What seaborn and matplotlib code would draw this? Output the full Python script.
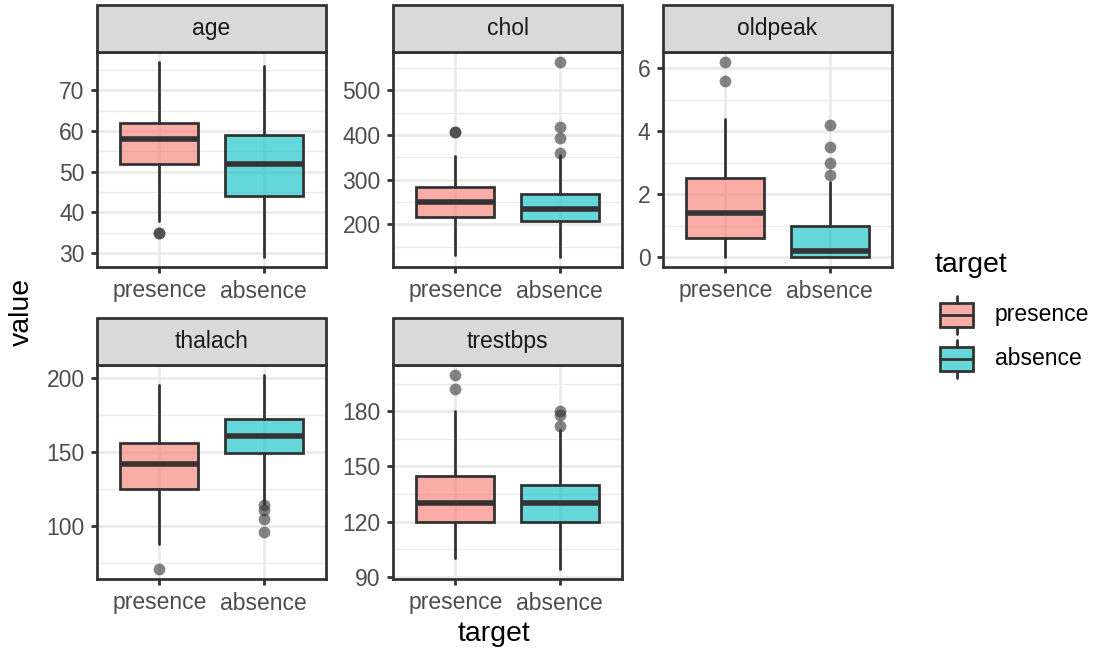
import numpy as np
import pandas as pd
import matplotlib
matplotlib.use("Agg")
import matplotlib.pyplot as plt
import seaborn as sns
from matplotlib.colors import to_rgba
from matplotlib.patches import Rectangle

# ---- data -------------------------------------------------------------
variables = ["age", "chol", "oldpeak", "thalach", "trestbps"]
groups = ["presence", "absence"]

# one entry per (variable, group), in variable order then group order
stat_variable = ["age", "age", "chol", "chol", "oldpeak", "oldpeak",
                 "thalach", "thalach", "trestbps", "trestbps"]
stat_group = groups * 5
whisker_low = [38, 29, 131, 126, 0.0, 0.0, 88, 115, 100, 94]
quartile_1 = [52, 44, 216, 208, 0.6, 0.0, 125, 149, 120, 120]
median_val = [58, 52, 249, 234, 1.4, 0.2, 142, 161, 130, 130]
quartile_3 = [62, 59, 283, 267, 2.5, 1.0, 156, 172, 145, 140]
whisker_high = [77, 76, 353, 354, 4.4, 2.4, 195, 202, 180, 170]
outliers = [[35, 35], [], [407, 407], [564, 417, 394, 360],
            [6.2, 5.6], [4.2, 3.5, 3.0, 2.6],
            [71], [114, 111, 105, 96],
            [200, 192], [180, 178, 172]]

# y-axis breaks for each facet
age_ticks = [30, 40, 50, 60, 70]
chol_ticks = [200, 300, 400, 500]
oldpeak_ticks = [0, 2, 4, 6]
thalach_ticks = [100, 150, 200]
trestbps_ticks = [90, 120, 150, 180]
y_ticks = {"age": age_ticks, "chol": chol_ticks, "oldpeak": oldpeak_ticks,
           "thalach": thalach_ticks, "trestbps": trestbps_ticks}

group_colors = {"presence": "#F8766D", "absence": "#00BFC4"}

summary = pd.DataFrame({
    "variable": stat_variable,
    "target": stat_group,
    "whislo": whisker_low,
    "q1": quartile_1,
    "med": median_val,
    "q3": quartile_3,
    "whishi": whisker_high,
    "fliers": outliers,
})

# ---- style ------------------------------------------------------------
sns.set_theme(style="white")
plt.rcParams["font.family"] = ["Liberation Sans", "DejaVu Sans"]

DARK = "#333333"
GRID = "#EBEBEB"
TICK_TXT = "#4D4D4D"
SMALL = 16.5
LARGE = 20.5
FILL_ALPHA = 0.6
LW = 2.0
LW_MED = 4.0


def draw_boxes(data, **kws):
    ax = plt.gca()
    data = data.set_index("target").loc[groups].reset_index()
    stats = []
    for _, r in data.iterrows():
        stats.append(dict(med=r["med"], q1=r["q1"], q3=r["q3"],
                          whislo=r["whislo"], whishi=r["whishi"],
                          fliers=np.asarray(r["fliers"], dtype=float)))
    bp = ax.bxp(stats, positions=range(len(stats)), widths=0.75,
                patch_artist=True, showcaps=False, manage_ticks=False,
                boxprops=dict(edgecolor=DARK, linewidth=LW),
                whiskerprops=dict(color=DARK, linewidth=LW),
                medianprops=dict(color=DARK, linewidth=LW_MED,
                                 solid_capstyle="butt"),
                flierprops=dict(marker="o", markerfacecolor=DARK,
                                markeredgecolor="none", alpha=0.6,
                                markersize=8.5, linestyle="none"))
    for patch, grp in zip(bp["boxes"], data["target"]):
        patch.set_facecolor(to_rgba(group_colors[grp], FILL_ALPHA))

    var = data["variable"].iloc[0]
    values = list(data["whislo"]) + list(data["whishi"]) + \
        [v for fl in data["fliers"] for v in fl]
    lo, hi = min(values), max(values)
    pad = 0.05 * (hi - lo)
    ax.set_ylim(lo - pad, hi + pad)

    majors = y_ticks[var]
    step = majors[1] - majors[0]
    minors = [m for m in np.arange(majors[0] - step / 2,
                                   majors[-1] + step, step)
              if lo - pad <= m <= hi + pad]
    ax.set_yticks(majors)
    ax.set_yticklabels([f"{m:g}" for m in majors])
    ax.set_yticks(minors, minor=True)

    ax.set_xlim(-0.6, len(groups) - 0.4)
    ax.set_xticks(range(len(groups)))
    ax.set_xticklabels(groups)


g = sns.FacetGrid(summary, col="variable", col_wrap=3, col_order=variables,
                  sharex=False, sharey=False, despine=False,
                  height=3, aspect=1.1)
g.map_dataframe(draw_boxes)

fig = g.figure
fig.set_size_inches(10.95, 6.51)
W, H = 1095.0, 651.0

col_x = [(97, 326), (393, 622), (663, 892)]
row_y = [(52, 267), (365, 579)]
STRIP = 47

for i, (var, ax) in enumerate(zip(variables, g.axes.flat)):
    r, c = divmod(i, 3)
    x0, x1 = col_x[c]
    y0, y1 = row_y[r]
    ax.set_position([x0 / W, (H - y1) / H, (x1 - x0) / W, (y1 - y0) / H])
    ax.set_title("")
    ax.set_xlabel("")
    ax.set_ylabel("")

    ax.set_axisbelow(True)
    ax.grid(which="major", color=GRID, linewidth=2.0)
    ax.grid(which="minor", axis="y", color=GRID, linewidth=1.0)
    ax.tick_params(which="major", length=4.5, width=LW, color=DARK,
                   labelsize=SMALL, labelcolor=TICK_TXT, pad=4.5,
                   left=True, bottom=True)
    ax.tick_params(which="minor", length=0)
    for sp in ax.spines.values():
        sp.set_color(DARK)
        sp.set_linewidth(LW)

    h = STRIP / (y1 - y0)
    ax.add_patch(Rectangle((0, 1), 1, h, transform=ax.transAxes,
                           clip_on=False, facecolor="#D9D9D9",
                           edgecolor=DARK, linewidth=LW, zorder=5))
    ax.text(0.5, 1 + h / 2, var, transform=ax.transAxes, ha="center",
            va="center", fontsize=SMALL, color="#1A1A1A", zorder=6)

# shared axis titles
fig.text(494 / W, 1 - 641 / H, "target", ha="center", va="baseline",
         fontsize=LARGE, color="black")
fig.text(22 / W, 1 - 312 / H, "value", ha="center", va="center",
         rotation=90, fontsize=LARGE, color="black")

# legend drawn in pixel space on an overlay axes
leg = fig.add_axes([0, 0, 1, 1], facecolor="none")
leg.set_xlim(0, W)
leg.set_ylim(H, 0)
leg.axis("off")
leg.text(935, 272.5, "target", ha="left", va="baseline",
         fontsize=LARGE, color="black")
kx0, kw, kh = 940, 33, 24.6
for k, grp in enumerate(groups):
    cy = 315 + 44 * k
    top, bot = cy - kh / 2, cy + kh / 2
    leg.plot([kx0 + kw / 2] * 2, [cy - 19, top], color=DARK, lw=LW)
    leg.plot([kx0 + kw / 2] * 2, [bot, cy + 19], color=DARK, lw=LW)
    leg.add_patch(Rectangle((kx0, top), kw, kh,
                            facecolor=to_rgba(group_colors[grp], FILL_ALPHA),
                            edgecolor=DARK, linewidth=LW))
    leg.plot([kx0, kx0 + kw], [cy, cy], color=DARK, lw=LW,
             solid_capstyle="butt")
    leg.text(995, cy + 6, grp, ha="left", va="baseline",
             fontsize=SMALL, color="black")

fig.savefig("out.png", dpi=100)
